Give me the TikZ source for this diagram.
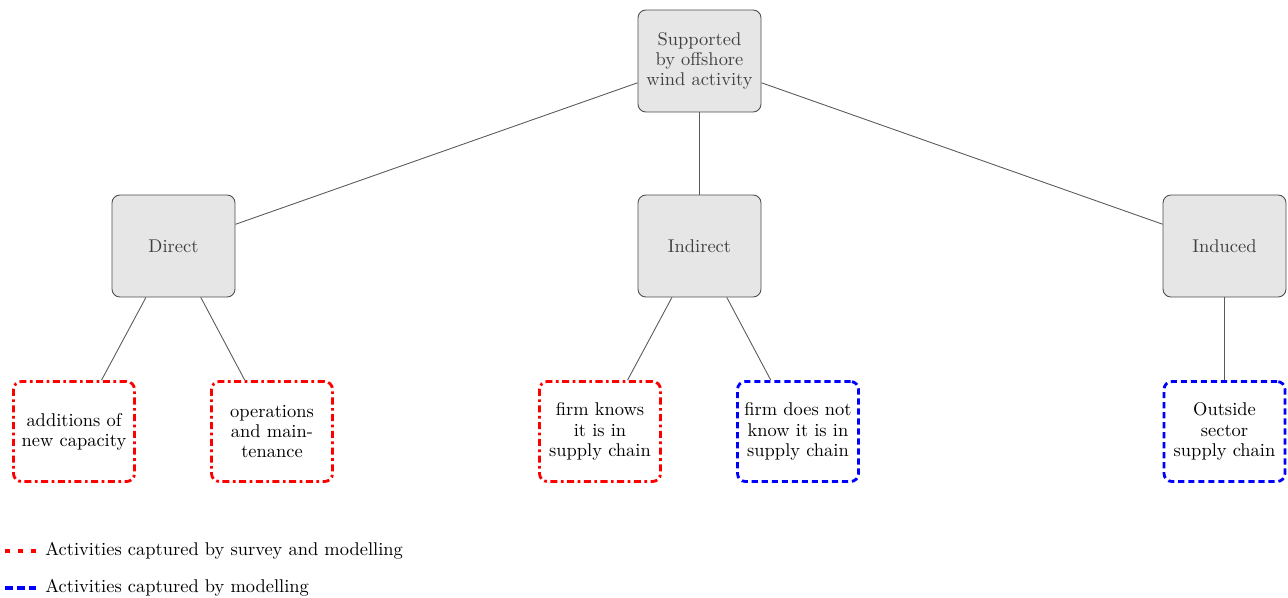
\documentclass[tikz,border=0pt]{standalone}
\usepackage{xcolor}
\usetikzlibrary{positioning}

\definecolor{boxgray}{HTML}{E6E6E6}
\definecolor{surveyred}{HTML}{FF0000}
\definecolor{modelblue}{HTML}{0000FF}

\tikzset{
  basebox/.style={rectangle, rounded corners=4.5pt, align=center, inner sep=1pt,
    text width=2.3cm, font=\fontsize{10.5pt}{11.5pt}\selectfont},
  levelbox/.style={basebox, draw=black!70, line width=0.5pt, fill=boxgray, text=black!75,
    minimum width=2.46cm, minimum height=2.04cm},
  surveybox/.style={basebox, draw=surveyred, line width=1.6pt,
    dash pattern=on 4pt off 2pt on 1.5pt off 2pt, minimum width=2.42cm, minimum height=2.0cm},
  modelbox/.style={basebox, draw=modelblue, line width=1.6pt,
    dash pattern=on 3.5pt off 2.2pt, minimum width=2.42cm, minimum height=2.0cm},
  link/.style={draw=black!65, line width=0.5pt},
  legendtext/.style={inner sep=0pt, anchor=west, font=\fontsize{10.5pt}{11.5pt}\selectfont}
}

\begin{document}
\begin{tikzpicture}
  \useasboundingbox (0,0) rectangle (25.76,-11.94);

  % tree
  \node (top) [levelbox] at (13.99,-1.22) {Supported\\by offshore\\wind activity};
  \node (direct) [levelbox] at (3.47,-4.92) {Direct};
  \node (indirect) [levelbox] at (13.99,-4.92) {Indirect};
  \node (induced) [levelbox] at (24.49,-4.92) {Induced};

  \node (newcap) [surveybox] at (1.48,-8.63) {additions of\\new capacity};
  \node (opmaint) [surveybox] at (5.44,-8.63) {operations\\and main-\\tenance};
  \node (knows) [surveybox] at (12.00,-8.63) {firm knows\\it is in\\supply chain};
  \node (notknow) [modelbox] at (15.96,-8.63) {firm does not\\know it is in\\supply chain};
  \node (outside) [modelbox] at (24.49,-8.63) {Outside\\sector\\supply chain};

  \draw[link] (top) -- (direct);
  \draw[link] (top) -- (indirect);
  \draw[link] (top) -- (induced);
  \draw[link] (direct) -- (newcap);
  \draw[link] (direct) -- (opmaint);
  \draw[link] (indirect) -- (knows);
  \draw[link] (indirect) -- (notknow);
  \draw[link] (induced) -- (outside);

  % legend
  \coordinate (svy a) at (0.10,-11.02);
  \coordinate (svy b) at (0.72,-11.02);
  \coordinate (mdl a) at (0.10,-11.76);
  \coordinate (mdl b) at (0.72,-11.76);
  \draw[surveyred, line width=2pt, dash pattern=on 2.8pt off 4.6pt] (svy a) -- (svy b);
  \draw[modelblue, line width=2pt, dash pattern=on 4.5pt off 2.3pt] (mdl a) -- (mdl b);
  \node (svy label) [legendtext, right=0.18cm of svy b] {Activities captured by survey and modelling};
  \node (mdl label) [legendtext, right=0.18cm of mdl b] {Activities captured by modelling};
\end{tikzpicture}
\end{document}
